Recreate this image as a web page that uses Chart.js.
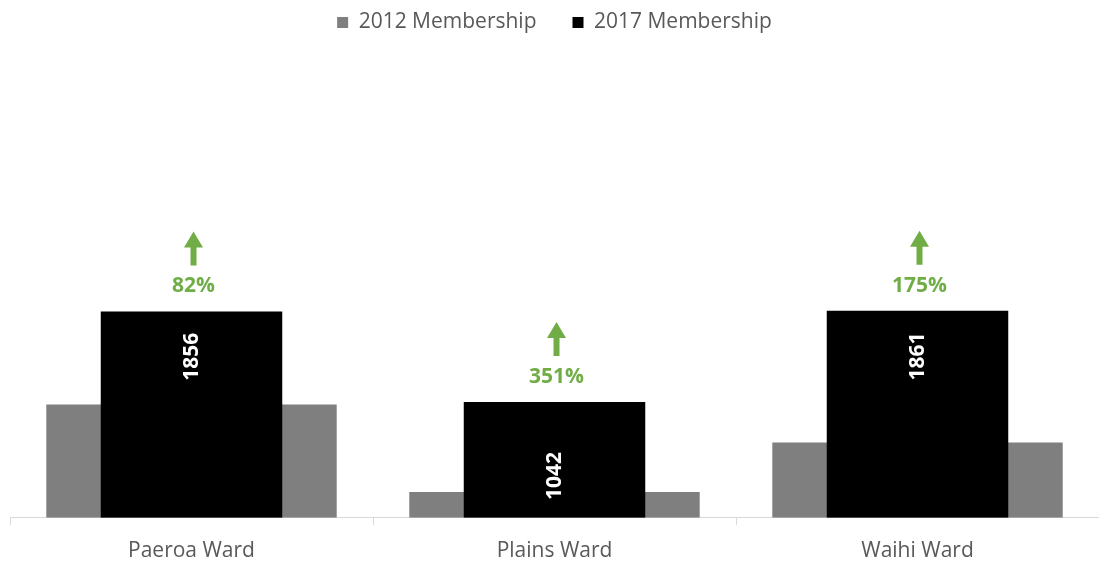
<!DOCTYPE html>
<html>
<head>
<meta charset="utf-8">
<script src="https://cdn.jsdelivr.net/npm/chart.js@4"></script>
<style>
    html, body { margin: 0; padding: 0; background: #ffffff; }
    #wrap { width: 1099px; height: 561px; }
</style>
</head>
<body>
<div id="wrap"><canvas id="membershipChart"></canvas></div>
<script>

// DATA

const wards = ["Paeroa Ward", "Plains Ward", "Waihi Ward"];

const members2012 = [1020, 231, 677];

const members2017 = [1856, 1042, 1861];

const growthLabels = ["82%", "351%", "175%"];

// where the rotated value sits inside the black bar (fraction of bar height)
const valueLabelSpot = [0.78, 0.36, 0.78];


// PLUGIN: VALUE LABELS + GREEN ARROWS

const growthPlugin = {

    id: "growthPlugin",

    afterDatasetsDraw(chart) {

        const ctx = chart.ctx;
        const blackMeta = chart.getDatasetMeta(1);
        const yScale = chart.scales.y;

        blackMeta.data.forEach((bar, i) => {

            const x = bar.x;
            const top = bar.y;

            // rotated value inside the bar
            const labelY = yScale.getPixelForValue(members2017[i] * valueLabelSpot[i]);

            ctx.save();
            ctx.translate(x, labelY);
            ctx.rotate(-Math.PI / 2);
            ctx.fillStyle = "#ffffff";
            ctx.font = "bold 21px 'Open Sans'";
            ctx.textAlign = "center";
            ctx.textBaseline = "middle";
            ctx.fillText(String(members2017[i]), 0, 1);
            ctx.restore();

            // percentage
            ctx.save();
            ctx.fillStyle = "#70ad47";
            ctx.font = "bold 21px 'Open Sans'";
            ctx.textAlign = "center";
            ctx.textBaseline = "middle";
            ctx.fillText(growthLabels[i], x + 2, top - 25);

            // arrow
            const tip = top - 80;
            const headBase = tip + 16;
            const tail = top - 46;
            const ax = x + 2;

            ctx.beginPath();
            ctx.moveTo(ax, tip);
            ctx.lineTo(ax + 9.5, headBase);
            ctx.lineTo(ax + 3, headBase);
            ctx.lineTo(ax + 3, tail);
            ctx.lineTo(ax - 3, tail);
            ctx.lineTo(ax - 3, headBase);
            ctx.lineTo(ax - 9.5, headBase);
            ctx.closePath();
            ctx.fill();
            ctx.restore();
        });
    }
};


// CREATE CHART

new Chart(document.getElementById("membershipChart"), {

    type: "bar",

    data: {

        labels: wards,

        datasets: [
            {
                label: "2012 Membership",
                data: members2012,
                backgroundColor: "#7f7f7f",
                barPercentage: 0.8,
                categoryPercentage: 1,
                grouped: false,
                order: 2
            },
            {
                label: "2017 Membership",
                data: members2017,
                backgroundColor: "#000000",
                barPercentage: 0.5,
                categoryPercentage: 1,
                grouped: false,
                order: 1
            }
        ]
    },

    options: {

        responsive: true,
        maintainAspectRatio: false,
        animation: false,

        layout: {
            padding: { left: 10, right: 0, top: -24, bottom: -17 }
        },

        plugins: {

            legend: {
                display: true,
                position: "top",
                labels: {
                    sort: (a, b) => a.datasetIndex - b.datasetIndex,
                    boxWidth: 11,
                    boxHeight: 11,
                    padding: 36,
                    color: "#595959",
                    font: { family: "'Open Sans'", size: 21 }
                }
            },

            tooltip: { enabled: false }
        },

        scales: {

            x: {
                offset: true,
                grid: {
                    display: true,
                    offset: true,
                    drawOnChartArea: false,
                    tickLength: 7,
                    color: "#d9d9d9"
                },
                border: { color: "#d9d9d9", width: 1 },
                ticks: {
                    color: "#595959",
                    padding: 14,
                    font: { family: "'Open Sans'", size: 21 }
                }
            },

            y: {
                display: false,
                min: 0,
                max: 4270
            }
        }
    },

    plugins: [growthPlugin]
});

</script>
</body>
</html>
